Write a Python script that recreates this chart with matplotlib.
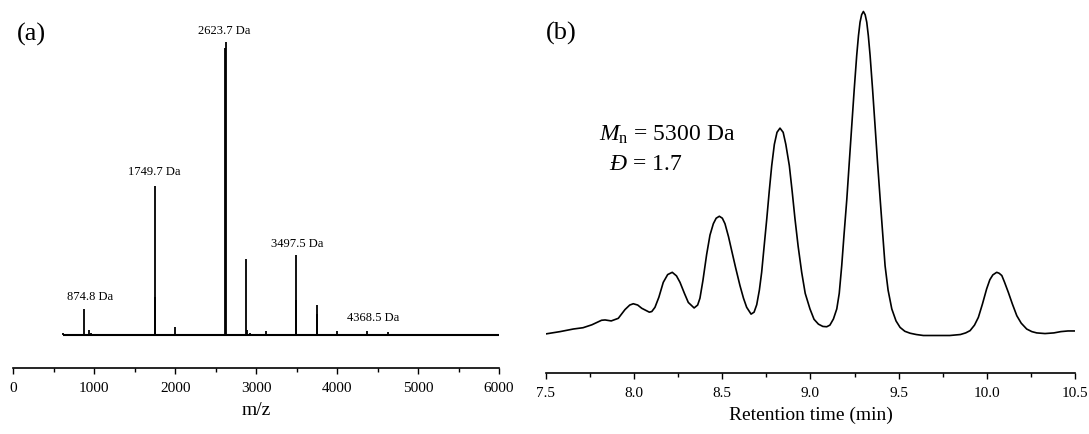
import matplotlib
matplotlib.use("Agg")
import matplotlib.pyplot as plt
from matplotlib.ticker import MultipleLocator, FormatStrFormatter

plt.rcParams['font.family'] = ['Liberation Serif', 'DejaVu Serif']
plt.rcParams['mathtext.fontset'] = 'custom'
plt.rcParams['mathtext.rm'] = 'Liberation Serif'
plt.rcParams['mathtext.it'] = 'Liberation Serif:italic'

# ---------------- Panel (a): MALDI-TOF spectrum ----------------
ms_mz = [617, 874.8, 939, 965, 1749.7, 1753, 1820, 1850, 1997, 2620, 2623.7,
         2680, 2875, 2884, 2930, 3126, 3493, 3497.5, 3749, 3752, 3800, 3999,
         4368.5, 4625]
ms_intensity = [0.6, 8.8, 1.7, 0.5, 51.0, 13.0, 0.4, 0.4, 2.7, 97.9, 100.0,
                0.4, 25.8, 1.6, 0.5, 1.4, 12.0, 27.2, 10.2, 7.1, 0.4, 1.4,
                1.2, 0.9]
ms_range = [617, 6000]
ms_labels = ["874.8 Da", "1749.7 Da", "2623.7 Da", "3497.5 Da", "4368.5 Da"]
ms_label_x = [947, 1747, 2611, 3501, 4440]
ms_label_y = [13.3, 55.9, 104.3, 31.3, 5.95]

# ---------------- Panel (b): GPC trace ----------------
gpc_time = [7.50, 7.58, 7.655, 7.71, 7.76, 7.815, 7.835, 7.87, 7.91, 7.948,
            7.975, 7.995, 8.02, 8.043, 8.086, 8.10, 8.118, 8.14, 8.165, 8.19,
            8.216, 8.24, 8.26, 8.285, 8.307, 8.34, 8.36, 8.373, 8.39, 8.411,
            8.43, 8.449, 8.465, 8.483, 8.50, 8.515, 8.535, 8.553, 8.575, 8.60,
            8.62, 8.638, 8.663, 8.68, 8.695, 8.71, 8.723, 8.737, 8.752, 8.766,
            8.78, 8.795, 8.81, 8.827, 8.845, 8.86, 8.88, 8.896, 8.912, 8.93,
            8.95, 8.97, 8.997, 9.02, 9.045, 9.07, 9.092, 9.11, 9.13, 9.149,
            9.163, 9.177, 9.19, 9.206, 9.22, 9.234, 9.248, 9.262, 9.272, 9.281,
            9.29, 9.30, 9.31, 9.319, 9.328, 9.338, 9.352, 9.366, 9.38, 9.395,
            9.41, 9.423, 9.44, 9.461, 9.485, 9.508, 9.535, 9.565, 9.60, 9.64,
            9.70, 9.79, 9.85, 9.88, 9.905, 9.93, 9.952, 9.975, 9.999, 10.017,
            10.034, 10.056, 10.07, 10.085, 10.10, 10.122, 10.145, 10.17, 10.195,
            10.226, 10.255, 10.283, 10.33, 10.38, 10.42, 10.46, 10.5]
gpc_signal = [0.005, 0.012, 0.020, 0.024, 0.033, 0.047, 0.048, 0.045, 0.053, 0.080,
              0.094, 0.098, 0.094, 0.084, 0.072, 0.074, 0.087, 0.118, 0.164, 0.188,
              0.195, 0.184, 0.164, 0.130, 0.102, 0.085, 0.094, 0.115, 0.17, 0.25,
              0.31, 0.345, 0.362, 0.368, 0.362, 0.345, 0.305, 0.262, 0.21, 0.154,
              0.115, 0.087, 0.066, 0.072, 0.095, 0.14, 0.195, 0.275, 0.360, 0.445,
              0.524, 0.59, 0.627, 0.640, 0.627, 0.59, 0.524, 0.445, 0.360, 0.275,
              0.195, 0.13, 0.082, 0.05, 0.035, 0.028, 0.027, 0.032, 0.051, 0.082,
              0.13, 0.215, 0.31, 0.421, 0.535, 0.648, 0.76, 0.864, 0.925, 0.967,
              0.99, 1.0, 0.99, 0.967, 0.925, 0.864, 0.76, 0.648, 0.535, 0.421,
              0.31, 0.215, 0.14, 0.082, 0.045, 0.025, 0.013, 0.007, 0.003, 0.0,
              0.0, 0.0, 0.003, 0.008, 0.015, 0.032, 0.056, 0.097, 0.144, 0.172,
              0.187, 0.195, 0.192, 0.185, 0.165, 0.133, 0.097, 0.061, 0.038,
              0.020, 0.012, 0.008, 0.006, 0.008, 0.012, 0.014, 0.014]

W, H = 1089, 435
fig = plt.figure(figsize=(W / 100, H / 100), dpi=100)

def style_axis(ax):
    for s in ("left", "right", "top"):
        ax.spines[s].set_visible(False)
    ax.spines["bottom"].set_linewidth(1.2)
    ax.set_yticks([])
    ax.tick_params(axis="x", which="major", direction="out", length=4.5,
                   width=1.0, labelsize=11, pad=5)
    ax.tick_params(axis="x", which="minor", direction="out", length=2.8,
                   width=1.0)

# Panel (a)
axA = fig.add_axes([13.3 / W, 1 - 369 / H, (499 - 13.3) / W, (369 - 5) / H])
axA.hlines(0, ms_range[0], ms_range[1], color="black", lw=1.5)
axA.vlines(ms_mz, 0, ms_intensity, color="black", lw=1.3)
axA.set_xlim(0, 6000)
axA.set_ylim(-11.39, 113.1)
axA.xaxis.set_major_locator(MultipleLocator(1000))
axA.xaxis.set_minor_locator(MultipleLocator(500))
style_axis(axA)
axA.set_xlabel("m/z", fontsize=14, labelpad=5)
for lab, x, y in zip(ms_labels, ms_label_x, ms_label_y):
    axA.text(x, y, lab, ha="center", va="center", fontsize=9)
fig.text(31 / W, 1 - 34 / H, "(a)", ha="center", va="center", fontsize=19)

# Panel (b)
axB = fig.add_axes([546 / W, 1 - 373.5 / H, (1075 - 546) / W, (373.5 - 5) / H])
axB.plot(gpc_time, gpc_signal, color="black", lw=1.2)
axB.set_xlim(7.5, 10.5)
axB.set_ylim(-0.1142, 1.0231)
axB.xaxis.set_major_locator(MultipleLocator(0.5))
axB.xaxis.set_minor_locator(MultipleLocator(0.25))
axB.xaxis.set_major_formatter(FormatStrFormatter("%.1f"))
style_axis(axB)
axB.set_xlabel("Retention time (min)", fontsize=14, labelpad=5)
axB.text(7.80, 0.603, r"$M_\mathrm{n}$ = 5300 Da", ha="left", va="baseline",
         fontsize=17)
axB.text(7.857, 0.514, r"$\mathit{Đ}$ = 1.7", ha="left", va="baseline",
         fontsize=17)
fig.text(561 / W, 1 - 33 / H, "(b)", ha="center", va="center", fontsize=19)

fig.savefig("out.png", dpi=100)
